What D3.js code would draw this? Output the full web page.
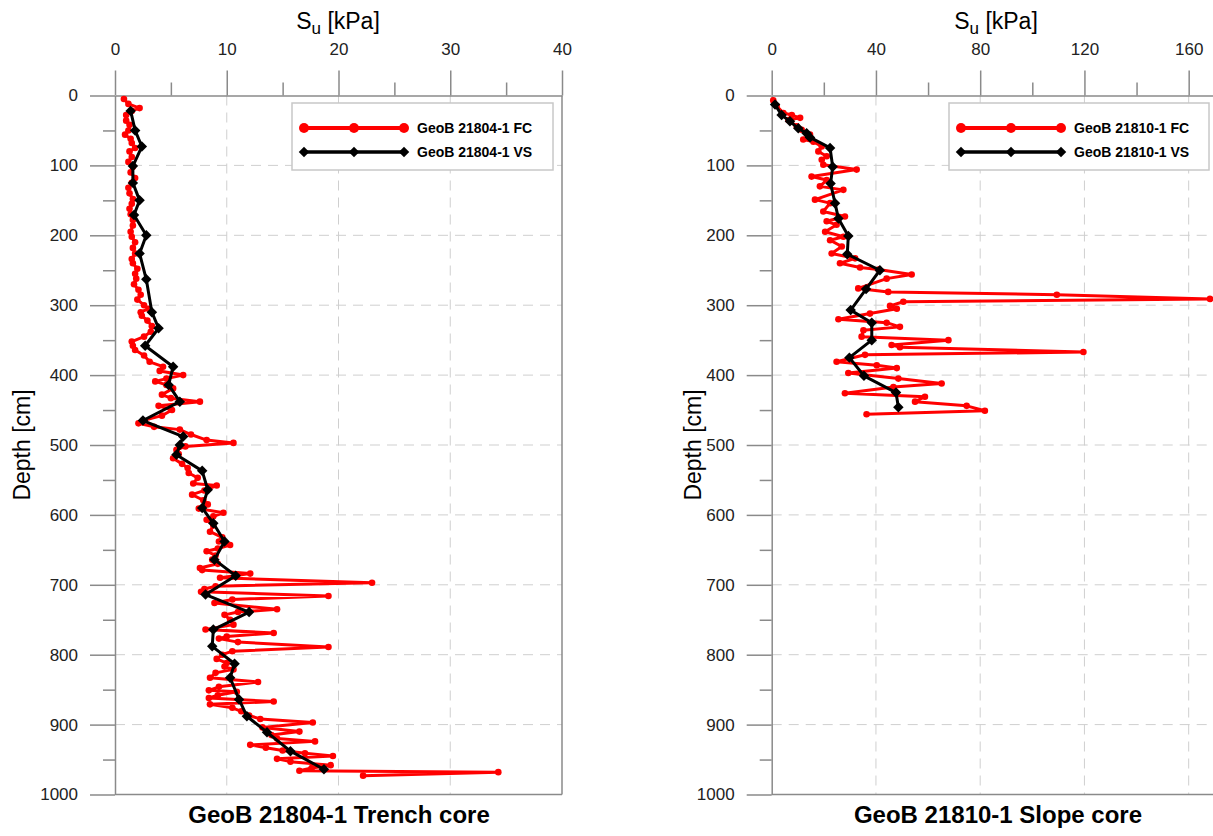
<!DOCTYPE html>
<meta charset="utf-8">
<style>
  body { margin: 0; background: #fff; }
  svg { display: block; font-family: "Liberation Sans", Arial, sans-serif; }
  .grid line { stroke: #cfcfcf; stroke-width: 1px; stroke-dasharray: 10,7; }
  .frame { stroke: #8a8a8a; stroke-width: 1.5px; fill: none; }
  .axis path, .axis line { stroke: #8a8a8a; stroke-width: 1.5px; }
  .axis text { font-size: 17px; fill: #222; }
  .fc { fill: none; stroke: #ff0000; stroke-width: 3px; stroke-linejoin: round; }
  .vs { fill: none; stroke: #000; stroke-width: 3px; stroke-linejoin: round; }
</style>
<body>
<div id="chart"></div>
<script src="https://cdnjs.cloudflare.com/ajax/libs/d3/7.8.5/d3.min.js"></script>
<script>

// ---- GeoB 21804-1 (trench core) ----
var fc1Depth = [5,12,18,22,28,36,42,50,56,62,68,75,80,88,95,102,110,118,125,132,140,148,155,162,170,178,186,195,202,210,218,226,234,240,248,255,262,270,278,285,292,300,305,310,315,322,330,338,345,352,358,364,372,381,388,394,400,405,409,414,419,428,433,438,444,450,458,465,469,474,478,485,493,497,502,507,513,519,527,533,540,547,555,558,565,571,579,585,591,597,602,607,615,624,632,638,643,648,652,658,664,670,676,679,684,690,697,702,706,710,716,721,726,735,739,743,750,757,764,769,774,777,782,789,795,800,806,812,817,821,826,833,839,846,851,853,858,862,867,871,876,881,887,892,897,904,910,915,920,924,929,933,937,941,945,949,953,958,962,966,968,973];
var fc1Su = [0.8,1.2,2.2,1.5,1.0,1.0,1.3,1.2,0.9,1.4,1.5,1.8,1.3,1.5,1.2,1.6,1.4,1.8,1.5,1.2,1.3,1.6,1.5,1.3,1.4,1.6,1.6,1.4,1.5,1.8,1.6,1.8,1.5,1.6,2.0,1.8,1.9,1.7,2.1,2.3,2.0,2.6,3.0,2.3,2.4,2.9,3.3,3.2,2.6,1.5,1.6,1.8,2.6,3.1,4.3,4.0,6.1,4.6,3.6,4.6,5.2,4.2,5.0,7.6,3.9,5.1,4.2,2.5,2.1,3.5,5.8,6.8,8.2,10.6,6.3,5.5,5.7,5.2,6.0,6.5,6.6,7.4,7.0,9.1,8.0,6.9,7.9,8.3,7.5,9.7,8.8,8.2,8.8,8.5,9.6,9.3,10.3,9.2,8.2,9.0,8.7,9.2,7.6,7.8,12.1,9.4,23.0,9.0,8.0,7.7,19.1,10.5,8.9,14.5,11.0,9.8,10.3,10.6,8.1,14.2,10.0,9.3,11.0,19.1,10.5,9.6,9.1,10.0,9.8,10.6,9.0,8.5,12.8,9.3,8.4,10.9,9.2,8.4,14.2,8.5,10.5,11.3,12.0,13.0,17.7,13.2,16.5,14.0,14.5,17.9,12.1,13.5,15.0,17.0,19.5,14.5,15.7,19.3,17.6,16.5,34.3,22.2];
var vs1Depth = [22,50,73,101,125,150,171,200,226,263,310,333,358,388,414,438,465,488,500,514,537,564,590,612,638,664,687,714,739,764,788,813,833,864,888,911,938,964];
var vs1Su = [1.4,1.8,2.4,1.6,1.6,2.2,1.7,2.8,2.2,2.8,3.3,3.9,2.7,5.2,4.8,5.8,2.5,6.1,5.8,5.5,7.8,8.3,7.8,8.8,9.8,8.9,10.8,8.1,12.0,8.8,8.7,10.7,10.3,11.1,11.8,13.6,15.7,18.7];

// ---- GeoB 21810-1 (slope core) ----
var fc2Depth = [7,15,25,28,32,35,44,49,56,63,66,73,80,87,92,99,106,116,121,130,135,149,154,166,173,180,185,195,202,207,216,226,233,240,246,249,256,262,276,281,285,291,295,301,305,312,320,325,331,336,345,350,357,360,367,371,381,386,390,397,405,412,417,426,431,438,444,451,456];
var fc2Su = [0.6,1.9,4.5,7.7,10.9,6.4,9.6,11.5,14.7,12.1,16.0,19.2,17.9,21.1,19.2,19.8,32.6,15.3,21.1,18.5,27.5,16.6,22.4,19.8,28.1,21.1,24.9,20.5,27.5,22.4,26.9,23.0,32.0,26.2,33.9,41.0,53.7,44.1,33.2,44.7,109.4,168.2,50.5,45.4,48.0,37.7,25.6,44.1,49.2,35.2,34.5,67.8,46.0,49.2,119.6,35.8,24.9,40.3,48.0,29.4,48.6,65.2,46.7,28.1,58.8,55.0,74.8,81.8,36.4];
var vs2Depth = [13,28,37,47,54,60,75,102,126,154,176,201,227,250,277,307,325,350,375,401,425,446];
var vs2Su = [1.3,3.8,7.0,10.2,13.4,14.7,22.4,23.4,22.6,24.3,25.6,29.4,29.0,41.5,36.2,30.3,38.4,38.4,29.8,35.4,47.7,48.6];

var depthTicks = [0,100,200,300,400,500,600,700,800,900,1000];
var su1Ticks = [0,10,20,30,40];
var su2Ticks = [0,40,80,120,160];

var svg = d3.select("#chart").append("svg")
  .attr("width", 1213).attr("height", 836);

var panels = [
  { xr: [115, 562], dom: [0, 40], ticks: su1Ticks, minor: [5,15,25,35], grid: [10,20,30],
    fcD: fc1Depth, fcV: fc1Su, vsD: vs1Depth, vsV: vs1Su, name: "GeoB 21804-1",
    title: "GeoB 21804-1 Trench core", tx: 339, ax: 338, ytx: 30, legX: 292, legW: 261, rightBorder: true },
  { xr: [771.7, 1240.8], dom: [0, 180], ticks: su2Ticks, minor: [20,60,100,140,180], grid: [40,80,120,160],
    fcD: fc2Depth, fcV: fc2Su, vsD: vs2Depth, vsV: vs2Su, name: "GeoB 21810-1",
    title: "GeoB 21810-1 Slope core", tx: 998, ax: 996, ytx: 701, legX: 949, legW: 260, rightBorder: false }
];

var y = d3.scaleLinear().domain([0, 1000]).range([95.5, 794.5]);
var diamond = d3.symbol().type(d3.symbolSquare).size(55);

panels.forEach(function (p) {
  var x = d3.scaleLinear().domain(p.dom).range(p.xr);
  var g = svg.append("g");
  var x0 = p.xr[0], x1 = p.xr[1];

  // gridlines
  var grid = g.append("g").attr("class", "grid");
  grid.selectAll(".gx").data(p.grid).enter().append("line")
    .attr("x1", d => x(d)).attr("x2", d => x(d))
    .attr("y1", y(0)).attr("y2", y(1000));
  grid.selectAll(".gy").data(depthTicks.slice(1, -1)).enter().append("line")
    .attr("x1", x0).attr("x2", x1)
    .attr("y1", d => y(d)).attr("y2", d => y(d));

  // frame (bottom + right)
  g.append("line").attr("class", "frame")
    .attr("x1", x0).attr("x2", x1).attr("y1", y(1000)).attr("y2", y(1000));
  if (p.rightBorder) {
    g.append("line").attr("class", "frame")
      .attr("x1", x1).attr("x2", x1).attr("y1", y(0)).attr("y2", y(1000));
  }

  // top axis
  g.append("g").attr("class", "axis").attr("transform", "translate(0," + y(0) + ")")
    .call(d3.axisTop(x).tickValues(p.minor).tickSize(13).tickFormat(""))
    .select(".domain").remove();
  g.append("g").attr("class", "axis").attr("transform", "translate(0," + y(0) + ")")
    .call(d3.axisTop(x).tickValues(p.ticks).tickSize(25).tickPadding(16).tickSizeOuter(0));

  // left axis
  g.append("g").attr("class", "axis").attr("transform", "translate(" + x0 + ",0)")
    .call(d3.axisLeft(y).tickValues([50,150,250,350,450,550,650,750,850,950]).tickSize(12).tickFormat(""))
    .select(".domain").remove();
  g.append("g").attr("class", "axis").attr("transform", "translate(" + x0 + ",0)")
    .call(d3.axisLeft(y).tickValues(depthTicks).tickSize(25).tickPadding(12)
      .tickSizeOuter(0).tickFormat(d3.format("d")));

  // axis titles
  var t = g.append("text").attr("x", p.ax).attr("y", 29)
    .attr("text-anchor", "middle").style("font-size", "23px");
  t.append("tspan").text("S");
  t.append("tspan").attr("dy", 5).style("font-size", "17px").text("u");
  t.append("tspan").attr("dy", -5).text(" [kPa]");

  g.append("text")
    .attr("transform", "translate(" + p.ytx + "," + y(500) + ") rotate(-90)")
    .attr("text-anchor", "middle").style("font-size", "23px").text("Depth [cm]");

  g.append("text").attr("x", p.tx).attr("y", 823).attr("text-anchor", "middle")
    .style("font-size", "24px").style("font-weight", "bold").text(p.title);

  // series
  var fc = d3.zip(p.fcD, p.fcV), vs = d3.zip(p.vsD, p.vsV);
  var line = d3.line().x(d => x(d[1])).y(d => y(d[0]));
  g.append("path").datum(fc).attr("class", "fc").attr("d", line);
  g.selectAll(".fcpt").data(fc).enter().append("circle")
    .attr("cx", d => x(d[1])).attr("cy", d => y(d[0])).attr("r", 3.3).attr("fill", "#ff0000");
  g.append("path").datum(vs).attr("class", "vs").attr("d", line);
  g.selectAll(".vspt").data(vs).enter().append("path")
    .attr("d", diamond)
    .attr("transform", d => "translate(" + x(d[1]) + "," + y(d[0]) + ") rotate(45)")
    .attr("fill", "#000");

  // legend
  var lg = g.append("g").attr("transform", "translate(" + p.legX + ",103)");
  lg.append("rect").attr("width", p.legW).attr("height", 67)
    .attr("fill", "#fff").attr("stroke", "#c8c8c8").attr("stroke-width", 1.5);
  var lx = [12, 62, 112];
  lg.append("line").attr("x1", lx[0]).attr("x2", lx[2]).attr("y1", 25).attr("y2", 25)
    .attr("stroke", "#ff0000").attr("stroke-width", 4);
  lg.selectAll(".lc").data(lx).enter().append("circle")
    .attr("cx", d => d).attr("cy", 25).attr("r", 5).attr("fill", "#ff0000");
  lg.append("line").attr("x1", lx[0]).attr("x2", lx[2]).attr("y1", 49).attr("y2", 49)
    .attr("stroke", "#000").attr("stroke-width", 3.5);
  lg.selectAll(".ld").data(lx).enter().append("path")
    .attr("d", diamond).attr("transform", d => "translate(" + d + ",49) rotate(45)").attr("fill", "#000");
  lg.append("text").attr("x", 125).attr("y", 30).style("font-size", "14px").style("font-weight", "bold")
    .text(p.name + " FC");
  lg.append("text").attr("x", 125).attr("y", 54).style("font-size", "14px").style("font-weight", "bold")
    .text(p.name + " VS");
});

</script>
</body>
